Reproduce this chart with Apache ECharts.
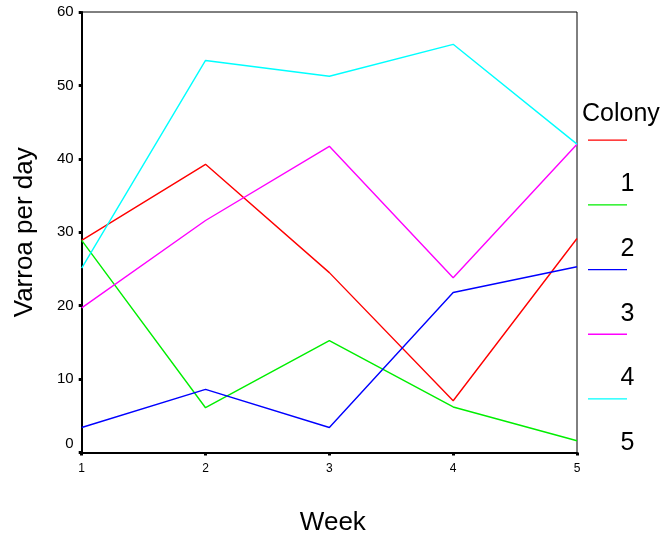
<!DOCTYPE html>
<html>
<head>
<meta charset="utf-8">
<script src="https://cdn.jsdelivr.net/npm/echarts@6/dist/echarts.min.js"></script>
<style>
html,body{margin:0;padding:0;background:#fff;}
#main{width:663px;height:538px;}
</style>
</head>
<body>
<div id="main"></div>
<script>
var weeks = ['1', '2', '3', '4', '5'];
var colonies = ['1', '2', '3', '4', '5'];
var colony1 = [28.9, 39.25, 24.5, 7.05, 29.15];
var colony2 = [28.9, 6.1, 15.25, 6.2, 1.6];
var colony3 = [3.4, 8.6, 3.4, 21.8, 25.3];
var colony4 = [19.7, 31.6, 41.7, 23.8, 42.0];
var colony5 = [25.1, 53.4, 51.25, 55.6, 42.0];
var yTicks = [0, 10, 20, 30, 40, 50, 60];
var colors = ['#ff0000', '#00ee00', '#0000ff', '#ff00ff', '#00ffff'];

var seriesValues = [colony1, colony2, colony3, colony4, colony5];
var FONT = 'Liberation Sans, Arial, sans-serif';

var chart = echarts.init(document.getElementById('main'), null, {renderer: 'canvas'});
var option = {
  backgroundColor: '#ffffff',
  animation: false,
  title: {
    text: 'Colony',
    left: 582,
    top: 102,
    padding: 0,
    textStyle: {fontFamily: FONT, fontSize: 25, fontWeight: 'normal', color: '#000'}
  },
  legend: {
    orient: 'vertical',
    left: 588,
    top: 139.5,
    padding: 0,
    itemGap: -25.3,
    itemWidth: 39,
    itemHeight: 90,
    icon: 'path://M0,0H39V1.3H0Z M0,90L0.01,90L0,89.99Z',
    itemStyle: {borderWidth: 0},
    data: colonies,
    textStyle: {fontFamily: FONT, fontSize: 25, color: '#000', padding: [0, 0, 0, -11.5]}
  },
  grid: {
    left: 81.7,
    right: 86,
    top: 12,
    bottom: 85.5,
    show: true,
    borderColor: '#000',
    borderWidth: 1,
    containLabel: false,
    outerBoundsMode: 'none'
  },
  xAxis: {
    type: 'category',
    data: weeks,
    boundaryGap: false,
    name: 'Week',
    nameLocation: 'middle',
    nameGap: 57,
    nameTextStyle: {fontFamily: FONT, fontSize: 26, color: '#000', padding: [0, 0, 0, 7]},
    axisLine: {lineStyle: {color: '#000', width: 2}},
    axisTick: {show: true, length: 3, inside: false, lineStyle: {color: '#000', width: 3}},
    axisLabel: {fontFamily: FONT, fontSize: 12, color: '#000', margin: 10},
    splitLine: {show: false}
  },
  yAxis: {
    type: 'value',
    min: yTicks[0],
    max: yTicks[yTicks.length - 1],
    interval: 10,
    name: 'Varroa per day',
    nameLocation: 'middle',
    nameRotate: 90,
    nameGap: 44,
    nameTextStyle: {fontFamily: FONT, fontSize: 26, color: '#000'},
    axisLine: {show: true, lineStyle: {color: '#000', width: 2}},
    axisTick: {show: true, length: 3, lineStyle: {color: '#000', width: 3}},
    axisLabel: {
      fontFamily: FONT, fontSize: 15, color: '#000', margin: 8,
      formatter: function (v) { return v === 0 ? '{z|0}' : String(v); },
      rich: {z: {fontFamily: FONT, fontSize: 15, color: '#000', padding: [0, 0, 17, 0]}}
    },
    splitLine: {show: false}
  },
  series: seriesValues.map(function (vals, i) {
    return {
      name: colonies[i],
      type: 'line',
      data: vals,
      symbol: 'none',
      color: colors[i],
      itemStyle: {color: colors[i]},
      lineStyle: {color: colors[i], width: 1.4}
    };
  })
};
chart.setOption(option);
</script>
</body>
</html>
